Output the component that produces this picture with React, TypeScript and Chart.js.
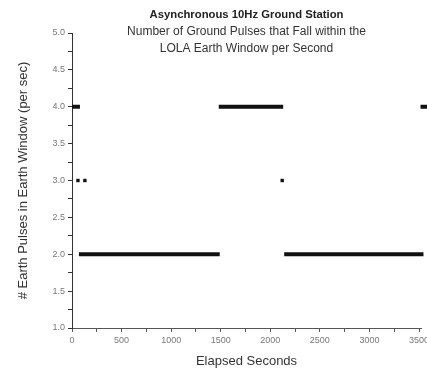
import React, { useEffect, useRef } from "react";
import { Chart, registerables } from "chart.js";

Chart.register(...registerables);

// Runs of consecutive seconds with a given pulse count [startSecond, endSecond]
const fourPulseRuns: [number, number][] = [[0, 80], [1480, 2130], [3515, 3600]];
const twoPulseRuns: [number, number][] = [[70, 1490], [2140, 3545]];
const threePulseSeconds: number[] = [60, 130, 2120];
const threePulseValue = 3;

const xTickValues = [0, 250, 500, 750, 1000, 1250, 1500, 1750, 2000, 2250, 2500, 2750, 3000, 3250, 3500];
const xMajorStep = 500;
const yMin = 1;
const yMax = 5;
const xMin = 0;
const xMax = 3520;

const titleLines = [
  "Asynchronous 10Hz Ground Station",
  "Number of Ground Pulses that Fall within the",
  "LOLA Earth Window per Second",
];
const xTitle = "Elapsed Seconds";
const yTitle = "# Earth Pulses in Earth Window (per sec)";

const FONT = "'Liberation Sans', Arial, sans-serif";

function runsToPoints(runs: [number, number][], value: number) {
  const pts: { x: number; y: number | null }[] = [];
  runs.forEach(([a, b], i) => {
    if (i > 0) pts.push({ x: (runs[i - 1][1] + a) / 2, y: null });
    pts.push({ x: a, y: value });
    pts.push({ x: b, y: value });
  });
  return pts;
}

const titlePlugin = {
  id: "multiTitle",
  afterDraw(chart: any) {
    const { ctx, chartArea } = chart;
    const cx = (chartArea.left + chartArea.right) / 2;
    ctx.save();
    ctx.textAlign = "center";
    ctx.textBaseline = "middle";
    ctx.fillStyle = "#222";
    ctx.font = `bold 11.3px ${FONT}`;
    ctx.fillText(titleLines[0], cx, 15);
    ctx.fillStyle = "#333";
    ctx.font = `12px ${FONT}`;
    ctx.fillText(titleLines[1], cx, 32);
    ctx.fillText(titleLines[2], cx, 49);
    ctx.restore();
  },
};

export default function App() {
  const ref = useRef<HTMLCanvasElement>(null);

  useEffect(() => {
    if (!ref.current) return;
    const lineStyle = {
      borderColor: "#111",
      backgroundColor: "#111",
      borderWidth: 4,
      pointRadius: 0,
      showLine: true,
      spanGaps: false,
      clip: false as any,
      borderCapStyle: "butt" as const,
    };
    const chart = new Chart(ref.current, {
      type: "scatter",
      data: {
        datasets: [
          { ...lineStyle, label: "4 pulses", data: runsToPoints(fourPulseRuns, 4) as any },
          { ...lineStyle, label: "2 pulses", data: runsToPoints(twoPulseRuns, 2) as any },
          {
            label: "3 pulses",
            data: threePulseSeconds.map((s) => ({ x: s, y: threePulseValue })),
            pointStyle: "rect",
            pointRadius: 2.4,
            borderWidth: 0,
            backgroundColor: "#111",
            borderColor: "#111",
            showLine: false,
            clip: false as any,
          },
        ],
      },
      plugins: [titlePlugin],
      options: {
        animation: false,
        responsive: true,
        maintainAspectRatio: false,
        layout: { padding: { left: 0, top: 33, right: 6, bottom: 0 } },
        plugins: {
          legend: { display: false },
          title: { display: false },
          tooltip: { enabled: false },
        },
        scales: {
          x: {
            type: "linear",
            min: xMin,
            max: xMax,
            afterBuildTicks: (scale: any) => {
              scale.ticks = xTickValues.map((v) => ({ value: v }));
            },
            afterFit: (scale: any) => {
              scale.height = 41;
              scale.paddingLeft = 0;
              scale.paddingRight = 0;
            },
            ticks: {
              autoSkip: false,
              maxRotation: 0,
              padding: 3,
              color: "#777",
              font: { family: FONT, size: 9 },
              callback: (v: any) => (Number(v) % xMajorStep === 0 ? String(v) : ""),
            },
            grid: {
              drawOnChartArea: false,
              tickLength: 4,
              tickColor: "#555",
            },
            border: { display: true, color: "#555", width: 1 },
            title: {
              display: true,
              text: xTitle,
              color: "#333",
              font: { family: FONT, size: 13 },
              padding: { top: -1, bottom: 0 },
            },
          },
          y: {
            type: "linear",
            min: yMin,
            max: yMax,
            ticks: {
              stepSize: 0.25,
              autoSkip: false,
              padding: 3,
              color: "#777",
              font: { family: FONT, size: 9 },
              callback: (v: any) =>
                Math.abs(Number(v) * 2 - Math.round(Number(v) * 2)) < 1e-6 ? Number(v).toFixed(1) : "",
            },
            afterFit: (scale: any) => {
              scale.width = 72;
              scale.paddingTop = 0;
              scale.paddingBottom = 0;
            },
            grid: {
              drawOnChartArea: false,
              tickLength: 4,
              tickColor: "#333",
            },
            border: { display: true, color: "#333", width: 1 },
            title: {
              display: true,
              text: yTitle,
              color: "#333",
              font: { family: FONT, size: 13 },
              padding: { top: 16, bottom: 0 },
            },
          },
        },
      },
    });
    return () => chart.destroy();
  }, []);

  return (
    <div style={{ position: "fixed", left: 0, top: 0, width: 427, height: 369, background: "#fff" }}>
      <canvas ref={ref} />
    </div>
  );
}
